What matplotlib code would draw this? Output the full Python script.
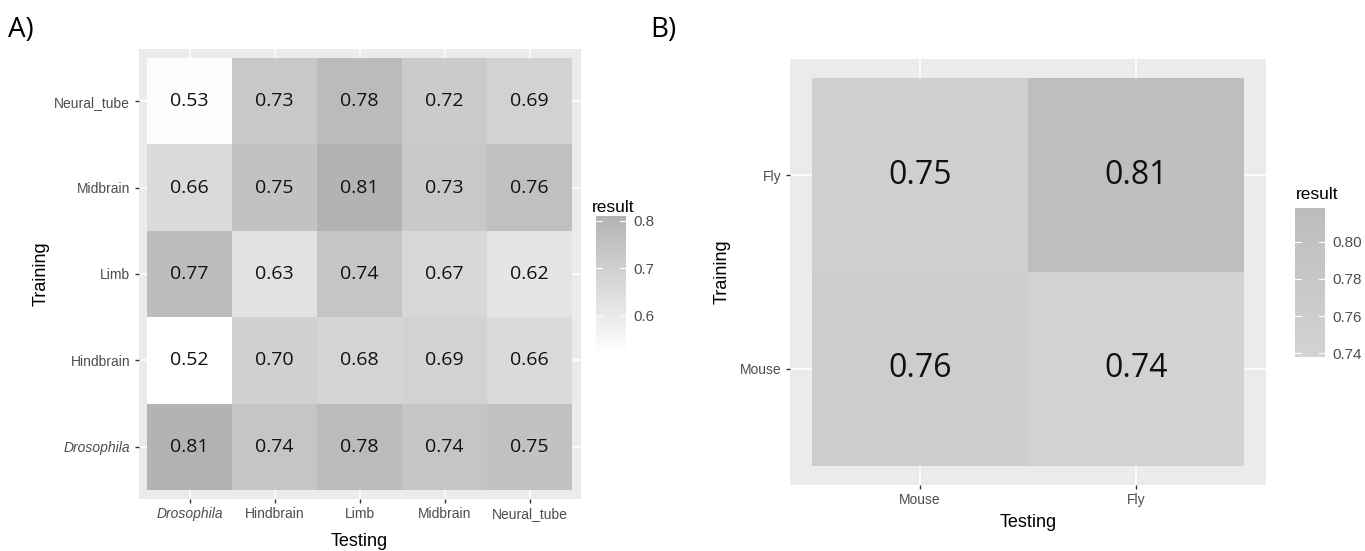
import matplotlib
matplotlib.use("Agg")
import matplotlib.pyplot as plt
import numpy as np
from matplotlib.colors import LinearSegmentedColormap, Normalize

# ---------------- data ----------------
a_testing = ["Drosophila", "Hindbrain", "Limb", "Midbrain", "Neural_tube"]
a_training = ["Drosophila", "Hindbrain", "Limb", "Midbrain", "Neural_tube"]  # bottom -> top
a_drosophila = [0.81, 0.74, 0.78, 0.74, 0.75]
a_hindbrain = [0.52, 0.70, 0.68, 0.69, 0.66]
a_limb = [0.77, 0.63, 0.74, 0.67, 0.62]
a_midbrain = [0.66, 0.75, 0.81, 0.73, 0.76]
a_neural_tube = [0.53, 0.73, 0.78, 0.72, 0.69]
a_cbar_ticks = [0.6, 0.7, 0.8]

b_testing = ["Mouse", "Fly"]
b_training = ["Mouse", "Fly"]  # bottom -> top
b_mouse = [0.76, 0.74]
b_fly = [0.75, 0.81]
b_cbar_ticks = [0.74, 0.76, 0.78, 0.80]

W, H = 1365, 551
fig = plt.figure(figsize=(W / 100, H / 100), dpi=100)
fig.patch.set_facecolor("white")

LABEL_FONT = ["Liberation Sans", "DejaVu Sans"]
NUM_FONT = ["Open Sans", "DejaVu Sans"]


def rect(x0, y0, x1, y1):
    return [x0 / W, 1 - y1 / H, (x1 - x0) / W, (y1 - y0) / H]


def style_axes(ax, n_x, n_y):
    ax.set_facecolor("#ebebeb")
    for s in ax.spines.values():
        s.set_visible(False)
    ax.set_xlim(-0.6, n_x - 0.4)
    ax.set_ylim(-0.6, n_y - 0.4)
    ax.set_axisbelow(True)
    ax.grid(True, color="white", linewidth=1.1)
    ax.tick_params(axis="both", length=3, width=1, color="#333333",
                   labelcolor="#4d4d4d", labelsize=10, pad=3)


def heat(ax, mat, cmap, norm, fontsize):
    ny, nx = mat.shape
    xs = np.arange(nx + 1) - 0.5
    ys = np.arange(ny + 1) - 0.5
    ax.pcolormesh(xs, ys, mat, cmap=cmap, norm=norm, zorder=2)
    for i in range(ny):
        for j in range(nx):
            ax.text(j, i, f"{mat[i, j]:.2f}", ha="center", va="center",
                    fontsize=fontsize, family=NUM_FONT, color="#111111", zorder=3)


# ---------------- panel A ----------------
mat_a = np.array([a_drosophila, a_hindbrain, a_limb, a_midbrain, a_neural_tube])
cmap_a = LinearSegmentedColormap.from_list("ga", ["#ffffff", "#b3b3b3"])
norm_a = Normalize(vmin=mat_a.min(), vmax=mat_a.max())

axA = fig.add_axes(rect(138.5, 49.4, 580.5, 498.6))
style_axes(axA, 5, 5)
heat(axA, mat_a, cmap_a, norm_a, 14)
axA.set_xticks(range(5))
axA.set_xticklabels(a_testing, family=LABEL_FONT)
axA.set_yticks(range(5))
axA.set_yticklabels(a_training, family=LABEL_FONT)
for lab in axA.get_xticklabels() + axA.get_yticklabels():
    if lab.get_text() == "Drosophila":
        lab.set_style("italic")
axA.tick_params(axis="x", pad=3)
axA.set_xlabel("Testing", family=LABEL_FONT, fontsize=13, color="black", labelpad=9)
axA.set_ylabel("Training", family=LABEL_FONT, fontsize=13, color="black", labelpad=3)

caxA = fig.add_axes(rect(596, 216, 626, 354))
cbA = fig.colorbar(matplotlib.cm.ScalarMappable(norm=norm_a, cmap=cmap_a), cax=caxA,
                   ticks=a_cbar_ticks)
cbA.outline.set_visible(False)
caxA.tick_params(length=0, labelsize=11, labelcolor="#4d4d4d", pad=5)
for t in caxA.get_yticklabels():
    t.set_family(LABEL_FONT)
for v in a_cbar_ticks:
    caxA.plot([0, 0.2], [v, v], color="white", lw=0.8, transform=caxA.get_yaxis_transform())
    caxA.plot([0.8, 1.0], [v, v], color="white", lw=0.8, transform=caxA.get_yaxis_transform())
fig.text(592 / W, 1 - 207 / H, "result", family=LABEL_FONT, fontsize=12.5,
         ha="left", va="center")

# ---------------- panel B ----------------
mat_b = np.array([b_mouse, b_fly])
cmap_b = LinearSegmentedColormap.from_list("gb", ["#d3d3d3", "#bcbcbc"])
norm_b = Normalize(vmin=0.738, vmax=0.818)

axB = fig.add_axes(rect(790, 59, 1266, 485))
style_axes(axB, 2, 2)
heat(axB, mat_b, cmap_b, norm_b, 23)
axB.set_xticks(range(2))
axB.set_xticklabels(b_testing, family=LABEL_FONT)
axB.set_yticks(range(2))
axB.set_yticklabels(b_training, family=LABEL_FONT)
axB.tick_params(axis="x", pad=3)
axB.set_xlabel("Testing", family=LABEL_FONT, fontsize=13, color="black", labelpad=5)
axB.set_ylabel("Training", family=LABEL_FONT, fontsize=13, color="black", labelpad=7)

caxB = fig.add_axes(rect(1295, 208, 1325, 357))
cbB = fig.colorbar(matplotlib.cm.ScalarMappable(norm=norm_b, cmap=cmap_b), cax=caxB,
                   ticks=b_cbar_ticks)
cbB.outline.set_visible(False)
cbB.ax.set_yticklabels([f"{v:.2f}" for v in b_cbar_ticks])
caxB.tick_params(length=0, labelsize=11, labelcolor="#4d4d4d", pad=5)
for t in caxB.get_yticklabels():
    t.set_family(LABEL_FONT)
for v in b_cbar_ticks:
    caxB.plot([0, 0.2], [v, v], color="white", lw=0.8, transform=caxB.get_yaxis_transform())
    caxB.plot([0.8, 1.0], [v, v], color="white", lw=0.8, transform=caxB.get_yaxis_transform())
fig.text(1296 / W, 1 - 194 / H, "result", family=LABEL_FONT, fontsize=12.5,
         ha="left", va="center")

# panel letters
fig.text(8 / W, 1 - 30 / H, "A)", family=NUM_FONT, fontsize=20, ha="left", va="center")
fig.text(650 / W, 1 - 30 / H, "B)", family=NUM_FONT, fontsize=20, ha="left", va="center")

fig.savefig("out.png", dpi=100, facecolor="white")
